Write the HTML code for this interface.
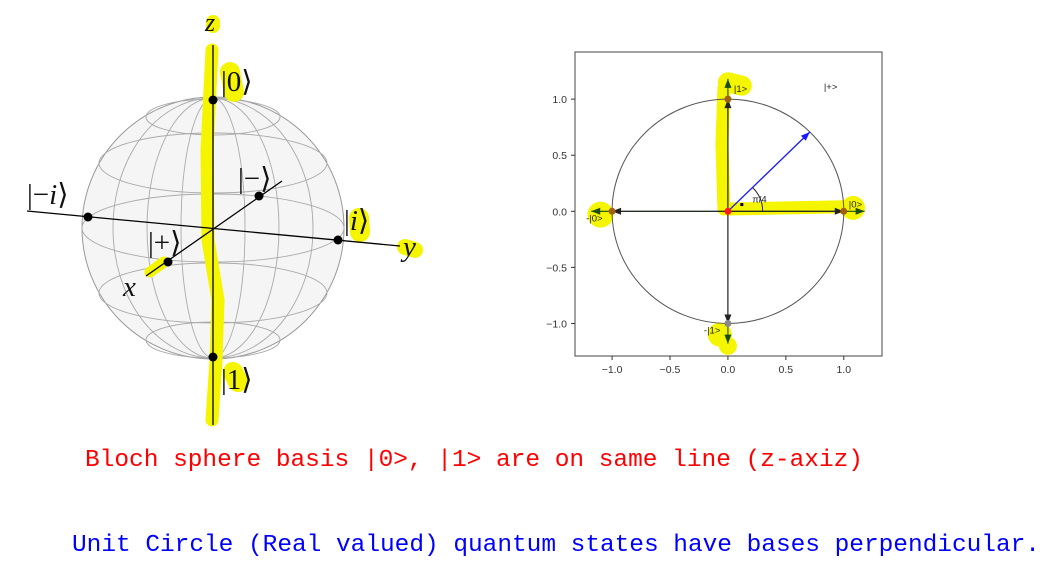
<!DOCTYPE html>
<html><head><meta charset="utf-8"><style>
html,body{margin:0;padding:0;background:#fff;width:1048px;height:574px;overflow:hidden}
svg{display:block}
</style></head><body>
<svg width="1048" height="574" viewBox="0 0 1048 574" xmlns="http://www.w3.org/2000/svg">
<g>
  <circle cx="213" cy="228" r="131" fill="#f2f2f2" fill-opacity="0.75" stroke="#999" stroke-width="1"/>
  <g fill="none" stroke="#aaa" stroke-width="0.9">
    <ellipse cx="213" cy="117" rx="67" ry="18"/>
    <ellipse cx="213" cy="163" rx="114" ry="30"/>
    <ellipse cx="213" cy="228" rx="131" ry="34"/>
    <ellipse cx="213" cy="293" rx="114" ry="30"/>
    <ellipse cx="213" cy="340" rx="67" ry="18"/>
    <ellipse cx="213" cy="228" rx="32" ry="130"/>
    <ellipse cx="213" cy="228" rx="66" ry="130"/>
    <ellipse cx="213" cy="228" rx="100" ry="130"/>
  </g>
  <g fill="none" stroke="#f5f500" stroke-linecap="round">
    <path d="M212,50 L207,150 L208,240 L218,300 L216,360 L212,420" stroke-width="13"/>
    <path d="M230,72 L234,92" stroke-width="20"/>
    <path d="M150,272 L164,262" stroke-width="11"/>
    <path d="M359,218 L360,232" stroke-width="20"/>
    <path d="M405,247 L415,250" stroke-width="16"/>
    <path d="M213,22 L213,26" stroke-width="14"/>
    <path d="M233,372 L238,382" stroke-width="20"/>
  </g>
  <g stroke="#000" stroke-width="1.3">
    <line x1="213" y1="45" x2="213" y2="425"/>
    <line x1="27" y1="211" x2="400" y2="246"/>
    <line x1="146" y1="276" x2="282" y2="181"/>
  </g>
  <g fill="#000">
    <circle cx="213" cy="100" r="4.5"/><circle cx="213" cy="357" r="4.5"/>
    <circle cx="88" cy="217" r="4.5"/><circle cx="338" cy="240" r="4.5"/>
    <circle cx="168" cy="262" r="4.5"/><circle cx="259" cy="196" r="4.5"/>
  </g>
  <g font-family="'Liberation Serif',serif" font-size="29" fill="#111">
    <text x="205" y="31" font-style="italic" font-size="26">z</text>
    <text x="221" y="91">|0⟩</text>
    <text x="221" y="389">|1⟩</text>
    <text x="27" y="204">|−<tspan font-style="italic">i</tspan>⟩</text>
    <text x="344" y="230">|<tspan font-style="italic">i</tspan>⟩</text>
    <text x="148" y="252">|+⟩</text>
    <text x="238" y="188">|−⟩</text>
    <text x="123" y="296" font-style="italic">x</text>
    <text x="403" y="256" font-style="italic">y</text>
  </g>
</g>
<g id="uc"></g>
<text x="85" y="466" fill="#f00" font-family="'Liberation Mono',monospace" font-size="24.5" textLength="778">Bloch sphere basis |0&gt;, |1&gt; are on same line (z-axiz)</text>
<text x="72" y="551" fill="#00f" font-family="'Liberation Mono',monospace" font-size="24.5" textLength="968">Unit Circle (Real valued) quantum states have bases perpendicular.</text>
</svg>
<script>
const xTicks=[-1.0,-0.5,0.0,0.5,1.0];
const yTicks=[-1.0,-0.5,0.0,0.5,1.0];
const tickLabels=["−1.0","−0.5","0.0","0.5","1.0"];
const xLim=[-1.32,1.33];
const yLim=[-1.29,1.42];
const plusState=[0.7071,0.7071];
const basisStates=[[1,0,"|0>"],[0,1,"|1>"],[-1,0,"-|0>"],[0,-1,"-|1>"]];
const L=575,R=882,T=52,B=356;
const sx=v=>L+(v-xLim[0])/(xLim[1]-xLim[0])*(R-L);
const sy=v=>B-(v-yLim[0])/(yLim[1]-yLim[0])*(B-T);
const NS="http://www.w3.org/2000/svg";
const g=document.getElementById('uc');
function mk(t,a,p){const e=document.createElementNS(NS,t);for(const k in a)e.setAttribute(k,a[k]);(p||g).appendChild(e);return e;}
const hl=mk('g',{fill:'none',stroke:'#f5f500','stroke-linecap':'round'});


mk('path',{d:`M${sx(0)-4},${sy(1.1)} L${sx(0)-6},${sy(0.6)} L${sx(0)-4},${sy(0.02)}`,'stroke-width':13},hl);
mk('path',{d:`M${sx(0)},${sy(1.15)} L${sx(0.12)},${sy(1.12)}`,'stroke-width':20},hl);
mk('path',{d:`M${sx(0)},${sy(0.02)} L${sx(1.0)},${sy(0.04)}`,'stroke-width':13},hl);
mk('circle',{cx:sx(1.08),cy:sy(0.03),r:12,fill:'#f5f500',stroke:'none'},hl);
mk('circle',{cx:sx(-1.1),cy:sy(-0.03),r:13,fill:'#f5f500',stroke:'none'},hl);
mk('circle',{cx:sx(-0.07),cy:sy(-1.1),r:12,fill:'#f5f500',stroke:'none'},hl);
mk('circle',{cx:sx(0),cy:sy(-1.2),r:9,fill:'#f5f500',stroke:'none'},hl);
const box=mk('rect',{x:L,y:T,width:R-L,height:B-T,fill:'none',stroke:'#444','stroke-width':1});


const circ=mk('ellipse',{cx:sx(0),cy:sy(0),rx:sx(1)-sx(0),ry:sy(0)-sy(1),fill:'none',stroke:'#555','stroke-width':1});


xTicks.forEach((v,i)=>{
  mk('line',{x1:sx(v),y1:B,x2:sx(v),y2:B+4,stroke:'#333'});
  const t=mk('text',{x:sx(v),y:B+17,'text-anchor':'middle','font-size':10.5,'font-family':'Liberation Sans, sans-serif',fill:'#333'});
  t.textContent=tickLabels[i];
  
  
});
yTicks.forEach((v,i)=>{
  mk('line',{x1:L-4,y1:sy(v),x2:L,y2:sy(v),stroke:'#333'});
  const t=mk('text',{x:L-8,y:sy(v)+4,'text-anchor':'end','font-size':10.5,'font-family':'Liberation Sans, sans-serif',fill:'#333'});
  t.textContent=tickLabels[i];
  
  
});
function arrow(x1,y1,x2,y2,c,w){
  mk('line',{x1:sx(x1),y1:sy(y1),x2:sx(x2),y2:sy(y2),stroke:c,'stroke-width':w});
  const ang=Math.atan2(sy(y2)-sy(y1),sx(x2)-sx(x1));
  const X=sx(x2),Y=sy(y2),l=9,h=3.5;
  const p=[[X,Y],[X-l*Math.cos(ang)+h*Math.sin(ang),Y-l*Math.sin(ang)-h*Math.cos(ang)],[X-l*Math.cos(ang)-h*Math.sin(ang),Y-l*Math.sin(ang)+h*Math.cos(ang)]];
  mk('polygon',{points:p.map(q=>q.join(',')).join(' '),fill:c});
}
basisStates.forEach(b=>{
  arrow(0,0,b[0]*1.18,b[1]*1.18,'#1a4d1a',1.1);
  arrow(0,0,b[0],b[1],'#222',1.1);
  const d=mk('circle',{cx:sx(b[0]),cy:sy(b[1]),r:3.5,fill:b[1]<0?'#888':'#a0600f'});
  
  
  const lx=b[0]===1?sx(b[0])+5:b[0]===-1?sx(b[0])-26:b[1]>0?sx(b[0])+6:sx(b[0])-24;
  const ly=b[1]===0?sy(b[1])+(b[0]>0?-4:10):b[1]>0?sy(b[1])-7:sy(b[1])+10;
  const t=mk('text',{x:lx,y:ly,'font-size':9.5,'font-family':'Liberation Sans, sans-serif',fill:'#222'});
  t.textContent=b[2];
  
  
});
arrow(0,0,plusState[0],plusState[1],'#1a1aff',1.3);
const pl=mk('text',{x:sx(plusState[0])+14,y:sy(plusState[1])-42,'font-size':9.5,'font-family':'Liberation Sans, sans-serif',fill:'#222'});
pl.textContent='|+>';


mk('path',{d:`M${sx(0.3)},${sy(0)} A${sx(0.3)-sx(0)},${sy(0)-sy(0.3)} 0 0 0 ${sx(0.3*0.7071)},${sy(0.3*0.7071)}`,fill:'none',stroke:'#222','stroke-width':1});
mk('rect',{x:sx(0.12)-1.5,y:sy(0.06)-1.5,width:3,height:3,fill:'#000'});
const pi=mk('text',{x:sx(0.21),y:sy(0.08),'font-size':9.5,'font-family':'Liberation Sans, sans-serif',fill:'#222'});
pi.textContent='π/4';


const o=mk('circle',{cx:sx(0),cy:sy(0),r:3.5,fill:'#ff1a1a'});


</script>
</body></html>
